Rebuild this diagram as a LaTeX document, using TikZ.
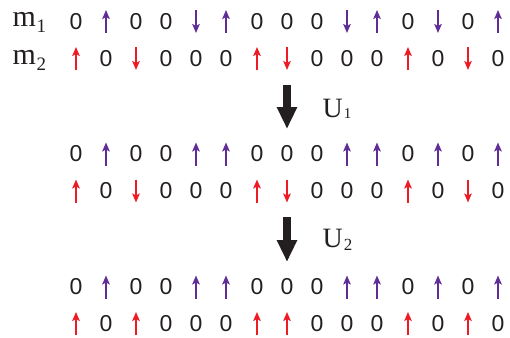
\documentclass[tikz,border=0pt]{standalone}
\usepackage{fontspec}
\setmainfont{Liberation Serif}
\newfontfamily\digitfont{Liberation Sans}
\usetikzlibrary{arrows.meta}
\definecolor{inkblack}{RGB}{35,31,32}
\definecolor{spinpurple}{RGB}{96,45,150}
\definecolor{spinred}{RGB}{237,28,36}
\tikzset{
  zero/.style={font=\digitfont\fontsize{23}{23}\selectfont,text=inkblack,inner sep=0pt},
  spin/.style={line width=2pt,-{Stealth[length=9pt,width=7.5pt,inset=2pt]}},
  bigarrow/.style={line width=7.5pt,draw=inkblack,-{Triangle[length=22pt,width=19pt]}},
  mlabel/.style={font=\fontsize{30}{30}\selectfont,text=inkblack,anchor=base west,inner sep=0pt},
  ulabel/.style={font=\fontsize{28}{28}\selectfont,text=inkblack,anchor=base west,inner sep=0pt}
}
\begin{document}
\begin{tikzpicture}[x=1pt,y=-1pt]
\useasboundingbox (0,0) rectangle (510,337);

\foreach \r/\yy/\cc/\seq in {
  a/21.5/spinpurple/{0,u,0,0,d,u,0,0,0,d,u,0,d,0,u},
  b/58.5/spinred/{u,0,d,0,0,0,u,d,0,0,0,u,0,d,0},
  c/154/spinpurple/{0,u,0,0,u,u,0,0,0,u,u,0,u,0,u},
  d/191/spinred/{u,0,d,0,0,0,u,d,0,0,0,u,0,d,0},
  e/287/spinpurple/{0,u,0,0,u,u,0,0,0,u,u,0,u,0,u},
  f/323.5/spinred/{u,0,u,0,0,0,u,u,0,0,0,u,0,u,0}}
{
  \foreach [count=\i from 0] \s in \seq {
    \pgfmathsetmacro\xx{round(75.5+30.2*\i)}
    \if\s u
      \coordinate (\r\i) at (\xx,\yy);
      \draw[spin,\cc] ([yshift=-11.5pt]\r\i) -- ([yshift=11.5pt]\r\i);
    \else\if\s d
      \coordinate (\r\i) at (\xx,\yy);
      \draw[spin,\cc] ([yshift=11.5pt]\r\i) -- ([yshift=-11.5pt]\r\i);
    \else
      \node[zero] (\r\i) at (\xx,\yy) {0};
    \fi\fi
  }
}

\node[mlabel] (m1) at (12.5,26.7) {m\kern0.5pt\raisebox{-6pt}{\fontsize{19}{19}\selectfont 1}};
\node[mlabel] (m2) at (12.5,64) {m\kern0.5pt\raisebox{-6pt}{\fontsize{19}{19}\selectfont 2}};

\coordinate (u1top) at (287,85);
\coordinate (u1bot) at (287,129);
\draw[bigarrow] (u1top) -- (u1bot);
\node[ulabel] (u1) at (322.5,117.3) {U\kern1pt\raisebox{-1.5pt}{\fontsize{15}{15}\selectfont 1}};

\coordinate (u2top) at (287,217);
\coordinate (u2bot) at (287,262);
\draw[bigarrow] (u2top) -- (u2bot);
\node[ulabel] (u2) at (322.5,247) {U\kern1pt\raisebox{-3.5pt}{\fontsize{17}{17}\selectfont 2}};
\end{tikzpicture}
\end{document}
